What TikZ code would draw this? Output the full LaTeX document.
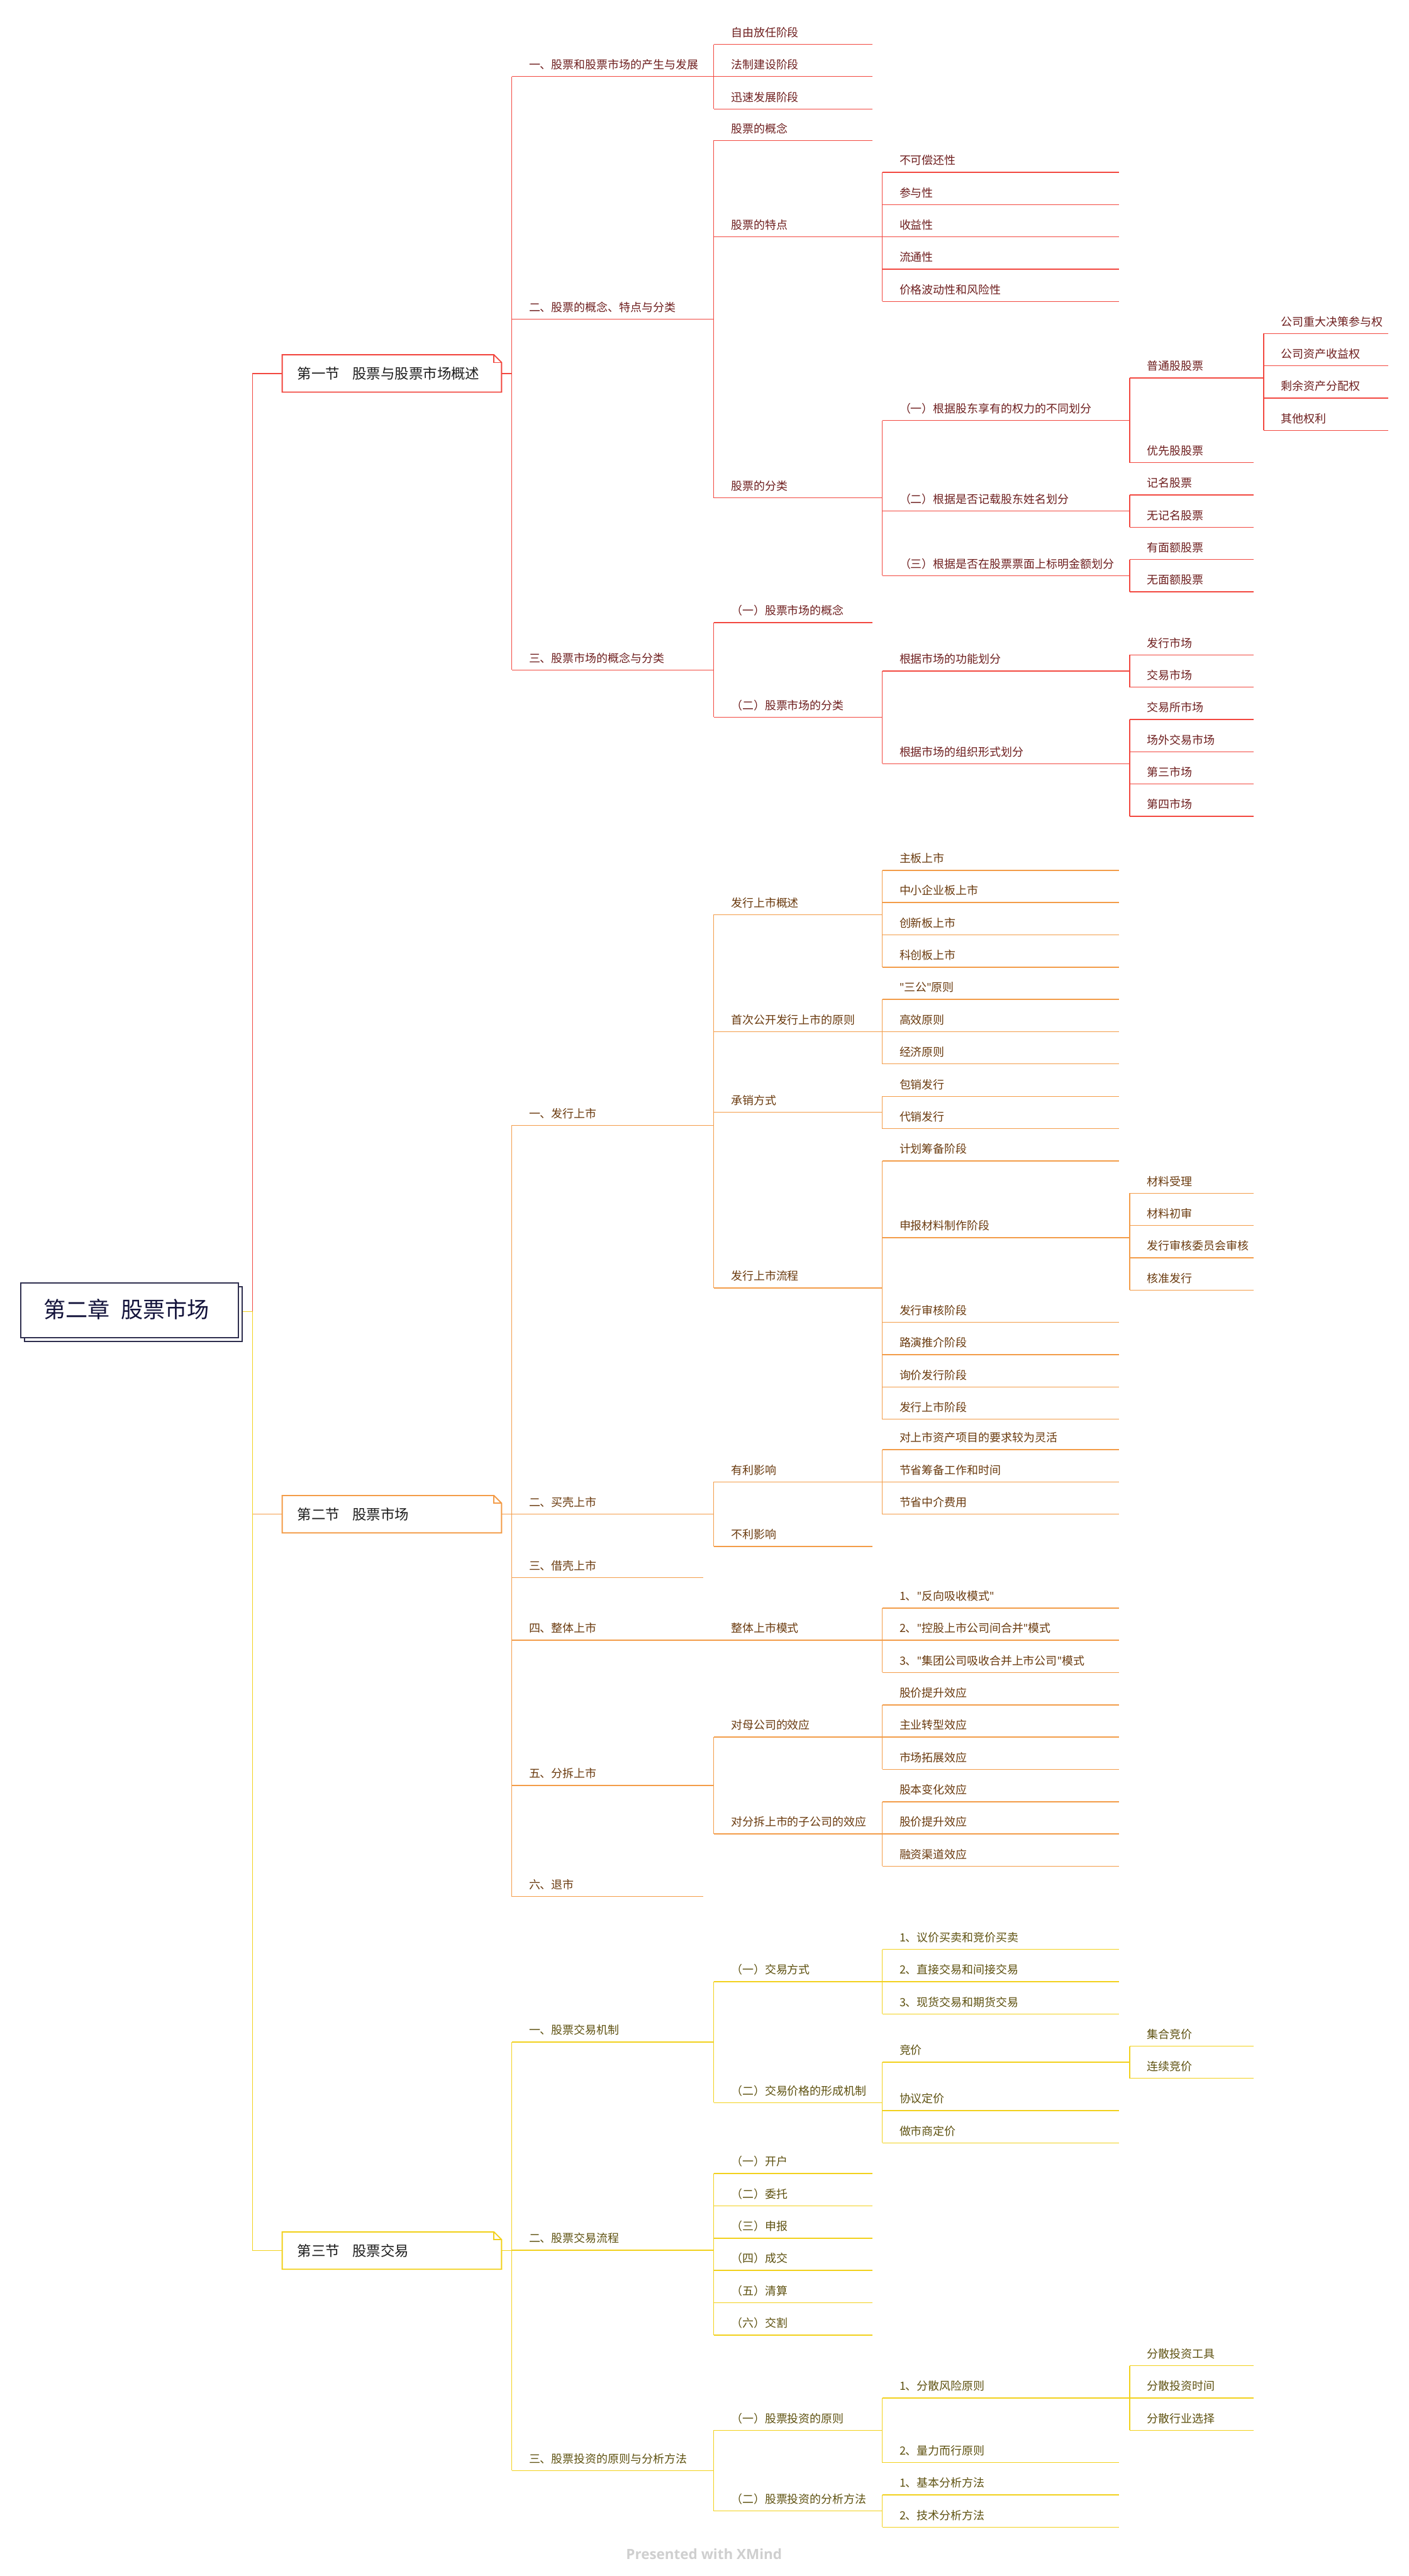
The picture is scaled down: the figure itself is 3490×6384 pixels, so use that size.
\documentclass[tikz,border=0pt]{standalone}
\usepackage{fontspec}
\setmainfont{Noto Sans CJK SC}
\newfontfamily\footfont{Open Sans}
\newfontfamily\qfont{Noto Sans}
\newcommand{\q}{{\qfont"}}
\definecolor{c1}{HTML}{F2473F}
\definecolor{c2}{HTML}{F39C48}
\definecolor{c3}{HTML}{F2D11C}
\definecolor{t1}{HTML}{6E1E1E}
\definecolor{t2}{HTML}{6A3A0E}
\definecolor{t3}{HTML}{5E5110}
\definecolor{sectxt}{HTML}{1E1E1E}
\definecolor{rootb}{HTML}{2E2E4E}
\definecolor{roottxt}{HTML}{12123A}
\definecolor{footc}{HTML}{CFCFCF}
\def\xA{1268}\def\xB{1768.5}\def\xC{2186}\def\xD{2799}\def\xE{3131}
\def\eLb{1743}\def\eLc{2161}\def\eLd{2773}\def\eLe{3107}\def\eLf{3439}
\newcommand{\mm}[5]{%
  \coordinate (#1s) at (#2,#4);
  \coordinate (#1e) at (#3,#4);
  \draw[ln,draw=\LC] (#1s) -- (#1e);
  \node[lbl,text=\TC] (#1) at (#2+42,#4-19) {#5};
}
\newcommand{\spine}[2]{\draw[ln,draw=\LC] (#1s) -- (#2s);}
\newcommand{\secbox}[4]{%
  \node[minimum width=135.5pt, minimum height=22.75pt, inner sep=0pt, draw=none] (#1) at (971,#2) {};
  \draw[line width=0.7pt, draw=#4, fill=white] (#1.south west) -- (#1.north west) -- ([xshift=-4.75pt]#1.north east) -- ([yshift=-4.75pt]#1.north east) -- (#1.south east) -- cycle;
  \draw[line width=0.6pt, draw=#4] ([xshift=-4.75pt]#1.north east) -- ([xshift=-4.75pt,yshift=-4.75pt]#1.north east) -- ([yshift=-4.75pt]#1.north east);
  \node[anchor=base west, inner sep=0pt, font=\fontsize{8.75pt}{10pt}\selectfont, text=sectxt] (#1t) at (736,#2+13.3) {#3};
}
\tikzset{
  lbl/.style={anchor=base west, inner sep=0pt, font=\fontsize{7pt}{8pt}\selectfont},
  ln/.style={line width=0.55pt},
}
\begin{document}
\begin{tikzpicture}[x=0.25pt,y=-0.25pt]
\useasboundingbox (0,0) rectangle (3490,6384);

% ---------- root ----------
\node[draw=rootb, line width=0.8pt, fill=white, minimum width=134.75pt, minimum height=33.75pt, inner sep=0pt] (rootsh) at (330.5,3256.5) {};
\node[draw=rootb, line width=0.8pt, fill=white, minimum width=134.75pt, minimum height=33.75pt, inner sep=0pt] (root) at (320.5,3247) {};
\node[anchor=base west, inner sep=0pt, font=\fontsize{13.7pt}{16pt}\selectfont, text=roottxt] (roott) at (107,3266) {第二章\hspace{0.5em}股票市场};
\coordinate (hub) at (626,3250);

% ---------- section boxes ----------
\draw[ln,draw=c1] (hub) |- (700,925.5);
\draw[ln,draw=c2] (hub) |- (700,3752.5);
\draw[ln,draw=c3] (hub -| rootsh.east) -- (hub) |- (700,5577.5);
\secbox{sec1}{925.5}{第一节\hspace{0.9em}股票与股票市场概述}{c1}
\secbox{sec2}{3752.5}{第二节\hspace{0.9em}股票市场}{c2}
\secbox{sec3}{5577.5}{第三节\hspace{0.9em}股票交易}{c3}

% ---------- section 1 ----------
\def\LC{c1}\def\TC{t1}
\mm{p1}{\xA}{\xB}{189.5}{一、股票和股票市场的产生与发展}
 \mm{p11}{\xB}{\eLc}{110}{自由放任阶段}
 \mm{p12}{\xB}{\eLc}{189.5}{法制建设阶段}
 \mm{p13}{\xB}{\eLc}{270}{迅速发展阶段}
 \spine{p11}{p13}
\mm{p2}{\xA}{\xB}{791}{二、股票的概念、特点与分类}
 \mm{p21}{\xB}{\eLc}{348}{股票的概念}
 \mm{p22}{\xB}{\xC}{587}{股票的特点}
  \mm{p221}{\xC}{\eLd}{427}{不可偿还性}
  \mm{p222}{\xC}{\eLd}{507}{参与性}
  \mm{p223}{\xC}{\eLd}{587}{收益性}
  \mm{p224}{\xC}{\eLd}{667}{流通性}
  \mm{p225}{\xC}{\eLd}{747}{价格波动性和风险性}
  \spine{p221}{p225}
 \mm{p23}{\xB}{\xC}{1234}{股票的分类}
  \mm{p231}{\xC}{\xD}{1042}{（一）根据股东享有的权力的不同划分}
   \mm{p2311}{\xD}{\xE}{936.7}{普通股股票}
    \mm{p23111}{\xE}{\eLf}{826.7}{公司重大决策参与权}
    \mm{p23112}{\xE}{\eLf}{906.7}{公司资产收益权}
    \mm{p23113}{\xE}{\eLf}{986.7}{剩余资产分配权}
    \mm{p23114}{\xE}{\eLf}{1066.7}{其他权利}
    \spine{p23111}{p23114}
   \mm{p2312}{\xD}{\eLe}{1146.7}{优先股股票}
   \spine{p2311}{p2312}
  \mm{p232}{\xC}{\xD}{1266.7}{（二）根据是否记载股东姓名划分}
   \mm{p2321}{\xD}{\eLe}{1226.7}{记名股票}
   \mm{p2322}{\xD}{\eLe}{1306.7}{无记名股票}
   \spine{p2321}{p2322}
  \mm{p233}{\xC}{\xD}{1426.7}{（三）根据是否在股票票面上标明金额划分}
   \mm{p2331}{\xD}{\eLe}{1386.7}{有面额股票}
   \mm{p2332}{\xD}{\eLe}{1466.7}{无面额股票}
   \spine{p2331}{p2332}
  \spine{p231}{p233}
 \spine{p21}{p23}
\mm{p3}{\xA}{\xB}{1660.4}{三、股票市场的概念与分类}
 \mm{p31}{\xB}{\eLc}{1542.9}{（一）股票市场的概念}
 \mm{p32}{\xB}{\xC}{1777.5}{（二）股票市场的分类}
  \mm{p321}{\xC}{\xD}{1662.9}{根据市场的功能划分}
   \mm{p3211}{\xD}{\eLe}{1622.9}{发行市场}
   \mm{p3212}{\xD}{\eLe}{1702.9}{交易市场}
   \spine{p3211}{p3212}
  \mm{p322}{\xC}{\xD}{1892.5}{根据市场的组织形式划分}
   \mm{p3221}{\xD}{\eLe}{1782.9}{交易所市场}
   \mm{p3222}{\xD}{\eLe}{1862.9}{场外交易市场}
   \mm{p3223}{\xD}{\eLe}{1942.9}{第三市场}
   \mm{p3224}{\xD}{\eLe}{2022.9}{第四市场}
   \spine{p3221}{p3224}
  \spine{p321}{p322}
 \spine{p31}{p32}
\spine{p1}{p3}
\draw[ln,draw=c1] (sec1.east) -- (sec1.east -| p1s);

% ---------- section 2 ----------
\def\LC{c2}\def\TC{t2}
\mm{q1}{\xA}{\xB}{2789}{一、发行上市}
 \mm{q11}{\xB}{\xC}{2266.6}{发行上市概述}
  \mm{q111}{\xC}{\eLd}{2156.8}{主板上市}
  \mm{q112}{\xC}{\eLd}{2236.7}{中小企业板上市}
  \mm{q113}{\xC}{\eLd}{2316.6}{创新板上市}
  \mm{q114}{\xC}{\eLd}{2397}{科创板上市}
  \spine{q111}{q114}
 \mm{q12}{\xB}{\xC}{2556.8}{首次公开发行上市的原则}
  \mm{q121}{\xC}{\eLd}{2476.4}{\q 三公\q 原则}
  \mm{q122}{\xC}{\eLd}{2556.8}{高效原则}
  \mm{q123}{\xC}{\eLd}{2636.7}{经济原则}
  \spine{q121}{q123}
 \mm{q13}{\xB}{\xC}{2756.3}{承销方式}
  \mm{q131}{\xC}{\eLd}{2717}{包销发行}
  \mm{q132}{\xC}{\eLd}{2797}{代销发行}
  \spine{q131}{q132}
 \mm{q14}{\xB}{\xC}{3192}{发行上市流程}
  \mm{q141}{\xC}{\eLd}{2877}{计划筹备阶段}
  \mm{q142}{\xC}{\xD}{3067}{申报材料制作阶段}
   \mm{q1421}{\xD}{\eLe}{2957}{材料受理}
   \mm{q1422}{\xD}{\eLe}{3037}{材料初审}
   \mm{q1423}{\xD}{\eLe}{3117}{发行审核委员会审核}
   \mm{q1424}{\xD}{\eLe}{3197}{核准发行}
   \spine{q1421}{q1424}
  \mm{q143}{\xC}{\eLd}{3277}{发行审核阶段}
  \mm{q144}{\xC}{\eLd}{3357}{路演推介阶段}
  \mm{q145}{\xC}{\eLd}{3437}{询价发行阶段}
  \mm{q146}{\xC}{\eLd}{3517}{发行上市阶段}
  \spine{q141}{q146}
 \spine{q11}{q14}
\mm{q2}{\xA}{\xB}{3752.7}{二、买壳上市}
 \mm{q21}{\xB}{\xC}{3672.7}{有利影响}
  \mm{q211}{\xC}{\eLd}{3592.7}{对上市资产项目的要求较为灵活}
  \mm{q212}{\xC}{\eLd}{3672.7}{节省筹备工作和时间}
  \mm{q213}{\xC}{\eLd}{3752.7}{节省中介费用}
  \spine{q211}{q213}
 \mm{q22}{\xB}{\eLc}{3832.7}{不利影响}
 \spine{q21}{q22}
\mm{q3}{\xA}{\eLb}{3910}{三、借壳上市}
\mm{q4}{\xA}{\xB}{4065}{四、整体上市}
 \mm{q41}{\xB}{\xC}{4065}{整体上市模式}
  \mm{q411}{\xC}{\eLd}{3985}{1、\q 反向吸收模式\q}
  \mm{q412}{\xC}{\eLd}{4065}{2、\q 控股上市公司间合并\q 模式}
  \mm{q413}{\xC}{\eLd}{4145}{3、\q 集团公司吸收合并上市公司\q 模式}
  \spine{q411}{q413}
\mm{q5}{\xA}{\xB}{4425}{五、分拆上市}
 \mm{q51}{\xB}{\xC}{4305}{对母公司的效应}
  \mm{q511}{\xC}{\eLd}{4225}{股价提升效应}
  \mm{q512}{\xC}{\eLd}{4305}{主业转型效应}
  \mm{q513}{\xC}{\eLd}{4385}{市场拓展效应}
  \spine{q511}{q513}
 \mm{q52}{\xB}{\xC}{4545}{对分拆上市的子公司的效应}
  \mm{q521}{\xC}{\eLd}{4465}{股本变化效应}
  \mm{q522}{\xC}{\eLd}{4545}{股价提升效应}
  \mm{q523}{\xC}{\eLd}{4625}{融资渠道效应}
  \spine{q521}{q523}
 \spine{q51}{q52}
\mm{q6}{\xA}{\eLb}{4700}{六、退市}
\spine{q1}{q6}
\draw[ln,draw=c2] (sec2.east) -- (sec2.east -| q1s);

% ---------- section 3 ----------
\def\LC{c3}\def\TC{t3}
\mm{r1}{\xA}{\xB}{5060.7}{一、股票交易机制}
 \mm{r11}{\xB}{\xC}{4911}{（一）交易方式}
  \mm{r111}{\xC}{\eLd}{4831}{1、议价买卖和竞价买卖}
  \mm{r112}{\xC}{\eLd}{4911}{2、直接交易和间接交易}
  \mm{r113}{\xC}{\eLd}{4991}{3、现货交易和期货交易}
  \spine{r111}{r113}
 \mm{r12}{\xB}{\xC}{5210.7}{（二）交易价格的形成机制}
  \mm{r121}{\xC}{\xD}{5110.7}{竞价}
   \mm{r1211}{\xD}{\eLe}{5071}{集合竞价}
   \mm{r1212}{\xD}{\eLe}{5150.7}{连续竞价}
   \spine{r1211}{r1212}
  \mm{r122}{\xC}{\eLd}{5230.7}{协议定价}
  \mm{r123}{\xC}{\eLd}{5310.7}{做市商定价}
  \spine{r121}{r123}
 \spine{r11}{r12}
\mm{r2}{\xA}{\xB}{5576.7}{二、股票交易流程}
 \mm{r21}{\xB}{\eLc}{5386.7}{（一）开户}
 \mm{r22}{\xB}{\eLc}{5466.7}{（二）委托}
 \mm{r23}{\xB}{\eLc}{5546.7}{（三）申报}
 \mm{r24}{\xB}{\eLc}{5626.7}{（四）成交}
 \mm{r25}{\xB}{\eLc}{5706.7}{（五）清算}
 \mm{r26}{\xB}{\eLc}{5786.7}{（六）交割}
 \spine{r21}{r26}
\mm{r3}{\xA}{\xB}{6122.7}{三、股票投资的原则与分析方法}
 \mm{r31}{\xB}{\xC}{6022.7}{（一）股票投资的原则}
  \mm{r311}{\xC}{\xD}{5942.7}{1、分散风险原则}
   \mm{r3111}{\xD}{\eLe}{5862.7}{分散投资工具}
   \mm{r3112}{\xD}{\eLe}{5942.7}{分散投资时间}
   \mm{r3113}{\xD}{\eLe}{6022.7}{分散行业选择}
   \spine{r3111}{r3113}
  \mm{r312}{\xC}{\eLd}{6102.7}{2、量力而行原则}
  \spine{r311}{r312}
 \mm{r32}{\xB}{\xC}{6222.7}{（二）股票投资的分析方法}
  \mm{r321}{\xC}{\eLd}{6182.7}{1、基本分析方法}
  \mm{r322}{\xC}{\eLd}{6262.7}{2、技术分析方法}
  \spine{r321}{r322}
 \spine{r31}{r32}
\spine{r1}{r3}
\draw[ln,draw=c3] (sec3.east) -- (sec3.east -| r1s);

% ---------- footer ----------
\node[anchor=base, inner sep=0pt, font=\footfont\bfseries\fontsize{8.75pt}{10pt}\selectfont, text=footc] (foot) at (1744.5,6342) {Presented with XMind};
\end{tikzpicture}
\end{document}
